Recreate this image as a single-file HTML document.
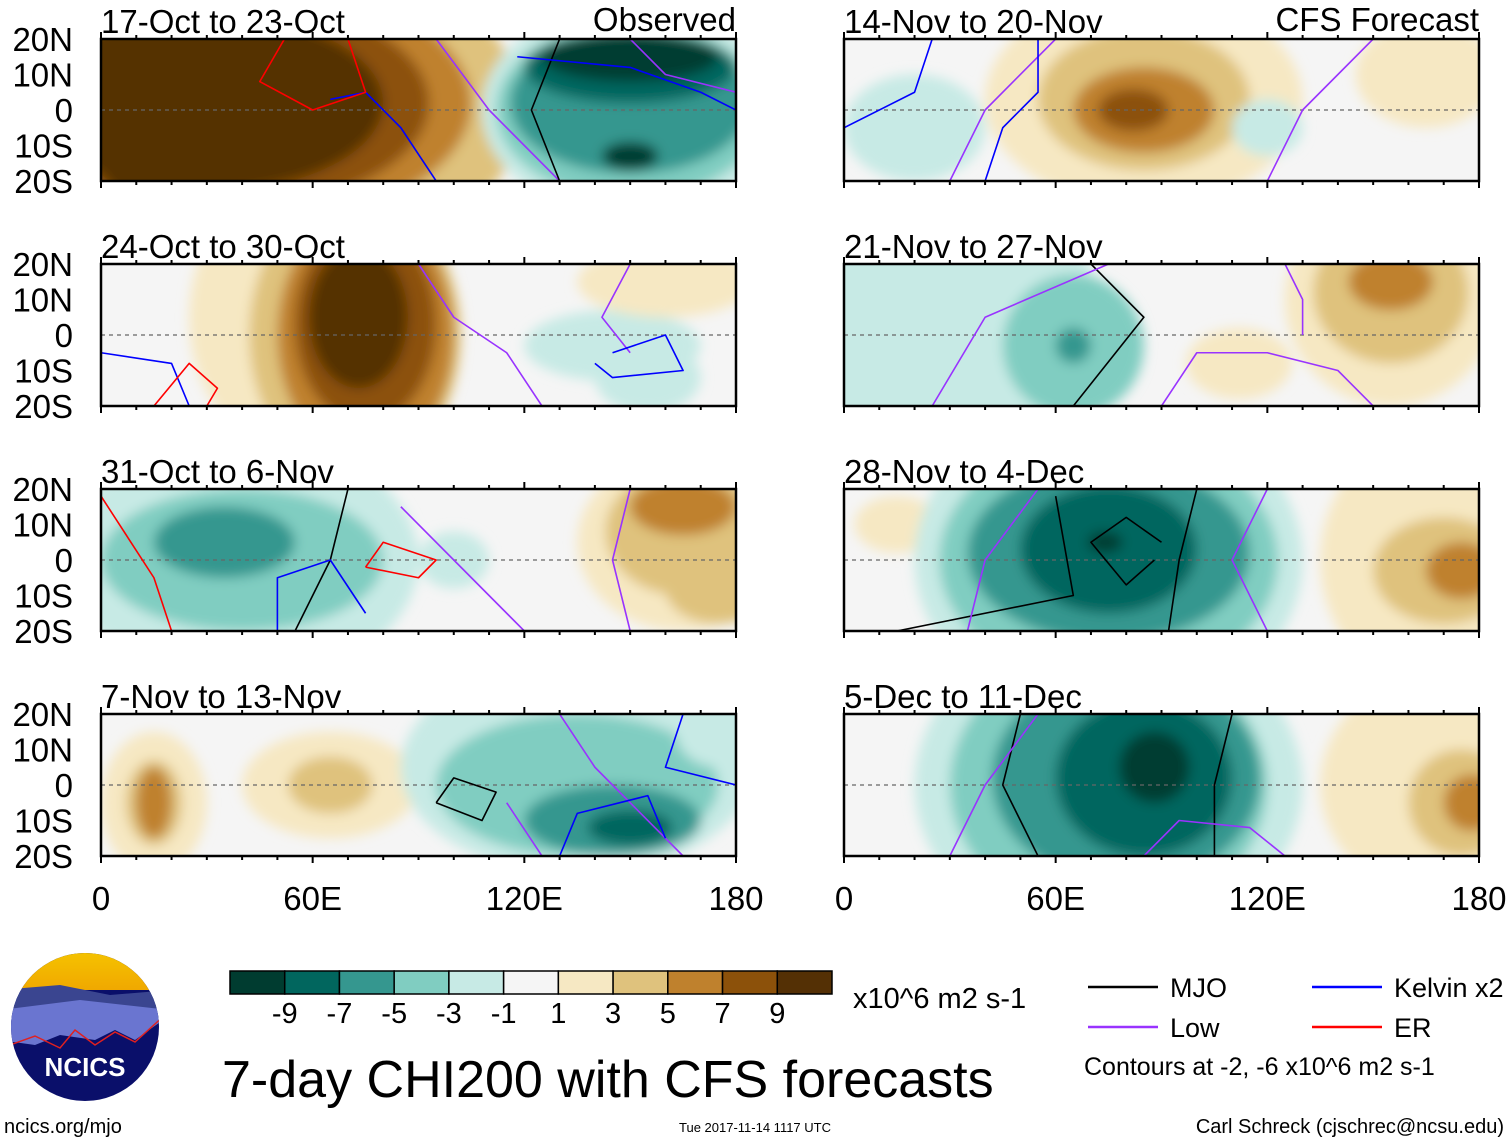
<!DOCTYPE html>
<html><head><meta charset="utf-8"><style>
body{margin:0;background:#fff;width:1510px;height:1142px;overflow:hidden;font-family:"Liberation Sans",sans-serif}
svg{display:block}
text{font-family:"Liberation Sans",sans-serif;fill:#000}
</style></head><body>
<svg id="fig" width="1510" height="1142">
<defs>
<filter id="blur" x="-20%" y="-20%" width="140%" height="140%"><feGaussianBlur stdDeviation="6"/></filter>
<linearGradient id="sky" x1="0" y1="0" x2="0" y2="1"><stop offset="0" stop-color="#f5c400"/><stop offset="1" stop-color="#f0a800"/></linearGradient>
</defs>
</svg>
<script>
const levelColors=["#003c30","#01665e","#35978f","#80cdc1","#c7eae5","#f5f5f5","#f6e8c3","#dfc27d","#bf812d","#8c510a","#543005"];
const levelLabels=["-9","-7","-5","-3","-1","1","3","5","7","9"];
const latTicks=["20N","10N","0","10S","20S"];
const latVals=[20,10,0,-10,-20];
const lonTicks=["0","60E","120E","180"];
const lonVals=[0,60,120,180];
const panelTitles=["17-Oct to 23-Oct","24-Oct to 30-Oct","31-Oct to 6-Nov","7-Nov to 13-Nov","14-Nov to 20-Nov","21-Nov to 27-Nov","28-Nov to 4-Dec","5-Dec to 11-Dec"];
// blobs: [lon, lat, lonRadius, latRadius, level]
const panelBlobs=[
 [[45,0,75,45,7],[40,2,65,35,8],[35,2,58,30,9],[30,2,50,25,10],[20,0,25,30,10],[150,0,42,30,4],[150,0,38,25,3],[150,2,34,20,2],[150,12,30,10,1],[150,15,25,7,0],[150,-13,8,4,0]],
 [[50,5,25,35,6],[72,0,30,40,7],[75,0,25,35,8],[75,3,20,28,9],[73,5,14,20,10],[145,-3,25,10,4],[155,-12,15,10,4],[160,15,25,10,6]],
 [[40,0,50,35,4],[40,0,40,20,3],[35,5,20,10,2],[100,0,10,8,4],[165,5,30,25,6],[165,8,22,18,7],[165,15,15,8,8],[175,-8,15,10,7]],
 [[15,-5,15,20,6],[15,-5,8,12,7],[15,-5,5,10,8],[65,0,25,15,6],[65,0,12,8,7],[135,5,50,30,4],[135,0,40,20,3],[145,-10,25,10,2],[150,-12,12,5,1],[175,15,12,10,4]],
 [[85,3,45,30,6],[85,3,30,20,7],[85,0,20,12,8],[82,0,10,6,9],[165,10,20,15,6],[20,-5,20,15,4],[120,-5,10,8,4]],
 [[30,0,45,40,4],[65,-3,20,20,3],[65,-3,5,5,2],[155,10,30,30,6],[155,12,22,20,7],[155,15,12,8,8],[112,-8,15,10,6]],
 [[15,10,12,8,6],[75,0,55,45,4],[75,0,48,35,3],[75,2,40,25,2],[75,3,25,18,1],[74,5,5,3,0],[165,0,30,35,6],[170,-3,20,15,7],[175,-3,10,8,8]],
 [[75,0,55,45,4],[75,0,45,38,3],[80,2,38,30,2],[85,2,25,22,1],[88,5,10,10,0],[165,0,30,30,6],[175,-5,15,15,7],[178,-5,8,8,8]]
];
// contour lines: [color, [[lon,lat],...]]
const panelContours=[
 [["#9933ff",[[95,20],[110,0],[120,-10],[130,-20]]],["#9933ff",[[150,20],[160,10],[180,5]]],["#000",[[130,20],[122,0],[130,-20]]],["#0000ff",[[118,15],[150,12],[170,5],[180,0]]],["#0000ff",[[95,-20],[85,-5],[75,5],[65,3]]],["#ff0000",[[52,20],[45,8],[60,0],[75,5],[70,20]]]],
 [["#9933ff",[[90,20],[100,5],[115,-5],[125,-20]]],["#9933ff",[[150,20],[142,5],[150,-5]]],["#0000ff",[[145,-5],[160,0],[165,-10],[145,-12],[140,-8]]],["#0000ff",[[0,-5],[20,-8],[25,-20]]],["#ff0000",[[15,-20],[25,-8],[33,-15],[30,-20]]]],
 [["#000",[[70,20],[65,0],[55,-20]]],["#0000ff",[[50,-20],[50,-5],[65,0],[75,-15]]],["#ff0000",[[75,-2],[80,5],[95,0],[90,-5],[75,-2]]],["#ff0000",[[0,18],[15,-5],[20,-20]]],["#9933ff",[[85,15],[105,-5],[120,-20]]],["#9933ff",[[150,20],[145,0],[150,-20]]]],
 [["#000",[[95,-5],[100,2],[112,-2],[108,-10],[95,-5]]],["#9933ff",[[130,20],[140,5],[150,-5],[165,-20]]],["#9933ff",[[115,-5],[125,-20]]],["#0000ff",[[130,-20],[135,-8],[155,-3],[160,-15]]],["#0000ff",[[165,20],[160,5],[180,0]]]],
 [["#9933ff",[[60,20],[40,0],[30,-20]]],["#9933ff",[[150,20],[130,0],[120,-20]]],["#0000ff",[[0,-5],[20,5],[25,20]]],["#0000ff",[[40,-20],[45,-5],[55,5],[55,20]]]],
 [["#000",[[70,20],[85,5],[65,-20]]],["#9933ff",[[75,20],[40,5],[25,-20]]],["#9933ff",[[90,-20],[100,-5],[120,-5],[140,-10],[150,-20]]],["#9933ff",[[125,20],[130,10],[130,0]]]],
 [["#000",[[60,18],[65,-10],[15,-20]]],["#000",[[90,5],[80,12],[70,5],[80,-7],[88,0]]],["#000",[[100,20],[95,0],[92,-20]]],["#9933ff",[[35,-20],[40,0],[55,20]]],["#9933ff",[[120,20],[110,0],[120,-20]]]],
 [["#000",[[110,20],[105,0],[105,-20]]],["#000",[[50,20],[45,0],[55,-20]]],["#9933ff",[[30,-20],[40,0],[55,20]]],["#9933ff",[[85,-20],[95,-10],[115,-12],[125,-20]]]]
];
const svg=document.getElementById('fig');
const NS="http://www.w3.org/2000/svg";
function mk(t,a,p){const e=document.createElementNS(NS,t);for(const k in a)e.setAttribute(k,a[k]);(p||svg).appendChild(e);return e;}
const W=635,H=142;
const colX=[101,844],rowY=[39,264,489,714];
panelTitles.forEach((title,i)=>{
 const x0=colX[Math.floor(i/4)],y0=rowY[i%4];
 const lonX=l=>x0+l/180*W, latY=l=>y0+(20-l)/40*H;
 const g=mk('g',{});
 
 
 const cp=mk('clipPath',{id:'cp'+i},g);mk('rect',{x:x0,y:y0,width:W,height:H},cp);
 const inner=mk('g',{'clip-path':'url(#cp'+i+')'},g);
 mk('rect',{x:x0,y:y0,width:W,height:H,fill:levelColors[5]},inner);
 const bg=mk('g',{filter:'url(#blur)'},inner);
 panelBlobs[i].forEach(b=>{
  const el=mk('ellipse',{cx:lonX(b[0]),cy:latY(b[1]),rx:b[2]/180*W,ry:b[3]/40*H,fill:levelColors[b[4]]},bg);
  
  
 });
 mk('line',{x1:x0,x2:x0+W,y1:latY(0),y2:latY(0),stroke:'#666','stroke-dasharray':'4 4','stroke-width':1.2},inner);
 panelContours[i].forEach(c=>{
  const p=c[1].map(q=>lonX(q[0])+','+latY(q[1])).join(' ');
  const pl=mk('polyline',{points:p,fill:'none',stroke:c[0],'stroke-width':1.6,'stroke-linejoin':'round'},inner);
  
  
 });
 mk('rect',{x:x0,y:y0,width:W,height:H,fill:'none',stroke:'#000','stroke-width':2.5},g);
 for(let l=0;l<=180;l+=10){const big=l%60==0;mk('line',{x1:lonX(l),x2:lonX(l),y1:y0+H,y2:y0+H+(big?7:4),stroke:'#000','stroke-width':2},g);mk('line',{x1:lonX(l),x2:lonX(l),y1:y0,y2:y0-(big?7:4),stroke:'#000','stroke-width':2},g);}
 const t=mk('text',{x:x0,y:y0-6,'font-size':33},g);t.textContent=title;
 
 if(x0==101){latTicks.forEach((lb,j)=>{const tt=mk('text',{x:73,y:latY(latVals[j])+12,'font-size':33,'text-anchor':'end'},g);tt.textContent=lb;
  });}
 if(i%4==3){lonTicks.forEach((lb,j)=>{const tt=mk('text',{x:lonX(lonVals[j]),y:910,'font-size':33,'text-anchor':'middle'},g);tt.textContent=lb;
  });}
});
let t1=mk('text',{x:736,y:31,'font-size':33,'text-anchor':'end'});t1.textContent='Observed';

let t2=mk('text',{x:1479,y:31,'font-size':33,'text-anchor':'end'});t2.textContent='CFS Forecast';

const cb=mk('g',{});
const cbX=230,cbW=602/11;
levelColors.forEach((c,k)=>{mk('rect',{x:cbX+k*cbW,y:971,width:cbW,height:23,fill:c,stroke:'#000','stroke-width':1.5},cb);});
levelLabels.forEach((lb,k)=>{const tt=mk('text',{x:cbX+(k+1)*cbW,y:1023,'font-size':29,'text-anchor':'middle'},cb);tt.textContent=lb;});
let u=mk('text',{x:853,y:1008,'font-size':29});u.textContent='x10^6 m2 s-1';

let tl=mk('text',{x:222,y:1097,'font-size':52});tl.textContent='7-day CHI200 with CFS forecasts';

const lg=mk('g',{});
[[1088,987,'#000','MJO'],[1312,987,'#0000ff','Kelvin x2'],[1088,1027,'#9933ff','Low'],[1312,1027,'#ff0000','ER']].forEach(e=>{
 mk('line',{x1:e[0],x2:e[0]+70,y1:e[1],y2:e[1],stroke:e[2],'stroke-width':2.5},lg);
 const tt=mk('text',{x:e[0]+82,y:e[1]+10,'font-size':27},lg);tt.textContent=e[3];});
let ct=mk('text',{x:1084,y:1075,'font-size':25});ct.textContent='Contours at -2, -6 x10^6 m2 s-1';

let cr=mk('text',{x:1504,y:1133,'font-size':20,'text-anchor':'end'});cr.textContent='Carl Schreck (cjschrec@ncsu.edu)';

let dt=mk('text',{x:755,y:1132,'font-size':13,'text-anchor':'middle'});dt.textContent='Tue 2017-11-14 1117 UTC';

let ur=mk('text',{x:4,y:1133,'font-size':20});ur.textContent='ncics.org/mjo';

const lo=mk('g',{});
const lcp=mk('clipPath',{id:'lc'},lo);mk('circle',{cx:85,cy:1027,r:74},lcp);
const lg2=mk('g',{'clip-path':'url(#lc)'},lo);
mk('rect',{x:0,y:950,width:170,height:160,fill:'#0a0f6a'},lg2);
mk('rect',{x:0,y:950,width:170,height:40,fill:'url(#sky)'},lg2);
mk('polygon',{points:'0,990 60,985 110,995 170,990 170,1020 0,1030',fill:'#3a4590'},lg2);
mk('polygon',{points:'0,1010 80,1000 170,1010 170,1015 135,1040 115,1030 95,1040 60,1035 35,1045 0,1040',fill:'#6a75d0'},lg2);
mk('polyline',{points:'10,1045 35,1036 60,1048 75,1030 95,1045 115,1032 135,1042 165,1015',fill:'none',stroke:'#e02020','stroke-width':1.5},lg2);
const nt=mk('text',{x:85,y:1076,'font-size':26,'font-weight':'bold','text-anchor':'middle'},lo);nt.textContent='NCICS';nt.style.fill='#fff';
</script>
</body></html>
